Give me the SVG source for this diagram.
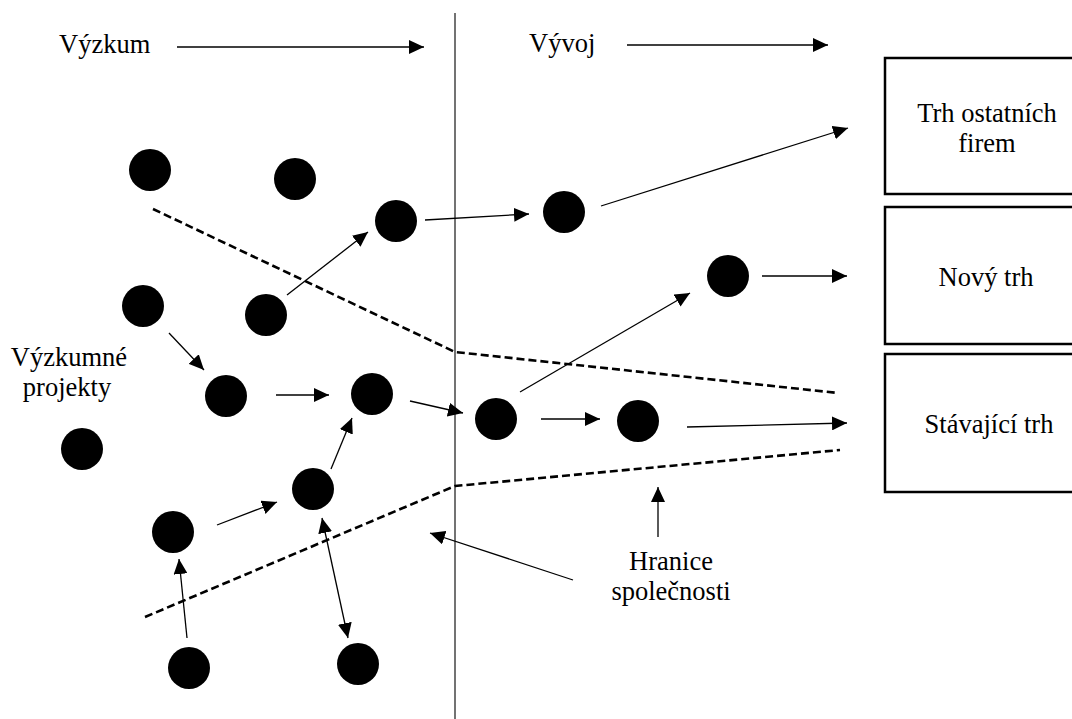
<svg xmlns="http://www.w3.org/2000/svg" width="1072" height="719" viewBox="0 0 1072 719">
<style>
.t{font-family:'Liberation Serif','Times New Roman',serif;font-size:26.5px;fill:#000}
.dot{fill:#000}
.con{stroke:#000;stroke-width:1.3;fill:none;marker-end:url(#ah)}
.dash{stroke:#000;stroke-width:2.6;fill:none;stroke-dasharray:8 4}
.box{fill:#fff;stroke:#000;stroke-width:2.5}
</style>
<defs>
<marker id="ah" markerUnits="userSpaceOnUse" markerWidth="16" markerHeight="14" refX="15" refY="7" orient="auto-start-reverse">
<path d="M0,0 L15,7 L0,14 z" fill="#000"/>
</marker>
</defs>
<rect width="1072" height="719" fill="#fff"/>
<g id="divider"><line x1="455" y1="13" x2="455" y2="719" stroke="#444" stroke-width="1.5"/></g>
<g id="labels" class="t">
<text x="59" y="53">Výzkum</text>
<text x="529" y="52">Vývoj</text>
<text x="69" y="366" text-anchor="middle">Výzkumné</text>
<text x="67" y="396" text-anchor="middle">projekty</text>
<text x="671" y="570" text-anchor="middle">Hranice</text>
<text x="671" y="600" text-anchor="middle">společnosti</text>
</g>
<g id="boundaries">
<polyline class="dash" points="153,209 455,352 838,393"/>
<polyline class="dash" points="145,617 455,486 840,450"/>
</g>
<g id="box-ostatni" class="t"><rect class="box" x="885" y="58" width="204" height="136"/><text x="987" y="122" text-anchor="middle">Trh ostatních</text><text x="987" y="152" text-anchor="middle">firem</text></g>
<g id="box-novy" class="t"><rect class="box" x="885" y="207" width="204" height="137"/><text x="986" y="286" text-anchor="middle">Nový trh</text></g>
<g id="box-stavajici" class="t"><rect class="box" x="885" y="354" width="204" height="138"/><text x="989" y="433" text-anchor="middle">Stávající trh</text></g>
<g id="projects">
<circle id="p1" class="dot" cx="150" cy="170" r="21"/>
<circle id="p2" class="dot" cx="295" cy="179" r="21"/>
<circle id="p3" class="dot" cx="396" cy="221" r="21"/>
<circle id="p4" class="dot" cx="564" cy="212" r="21"/>
<circle id="p5" class="dot" cx="143" cy="306" r="21"/>
<circle id="p6" class="dot" cx="266" cy="315" r="21"/>
<circle id="p7" class="dot" cx="728" cy="276" r="21"/>
<circle id="p8" class="dot" cx="226" cy="396" r="21"/>
<circle id="p9" class="dot" cx="372" cy="394" r="21"/>
<circle id="p10" class="dot" cx="496" cy="419" r="21"/>
<circle id="p11" class="dot" cx="82" cy="449" r="21"/>
<circle id="p12" class="dot" cx="638" cy="421" r="21"/>
<circle id="p13" class="dot" cx="313" cy="489" r="21"/>
<circle id="p14" class="dot" cx="173" cy="532" r="21"/>
<circle id="p15" class="dot" cx="189" cy="668" r="21"/>
<circle id="p16" class="dot" cx="358" cy="664" r="21"/>
</g>
<g id="connectors">
<line class="con" x1="177" y1="47" x2="424" y2="47"/>
<line class="con" x1="627" y1="45" x2="828" y2="45"/>
<line class="con" x1="425" y1="220" x2="529" y2="214"/>
<line class="con" x1="601" y1="206" x2="848" y2="128"/>
<line class="con" x1="287" y1="295" x2="368" y2="232"/>
<line class="con" x1="169" y1="333" x2="204" y2="370"/>
<line class="con" x1="276" y1="395" x2="329" y2="395"/>
<line class="con" x1="410" y1="401" x2="463" y2="413"/>
<line class="con" x1="520" y1="392" x2="690" y2="293"/>
<line class="con" x1="762" y1="276" x2="847" y2="276"/>
<line class="con" x1="541" y1="419" x2="600" y2="419"/>
<line class="con" x1="687" y1="427" x2="847" y2="423"/>
<line class="con" x1="331" y1="469" x2="352" y2="418"/>
<line class="con" x1="217" y1="525" x2="277" y2="502"/>
<line class="con" x1="187" y1="638" x2="179" y2="559"/>
<line class="con" x1="322" y1="518" x2="348" y2="638" marker-start="url(#ah)"/>
<line class="con" x1="573" y1="580" x2="430" y2="533"/>
<line class="con" x1="658" y1="537" x2="658" y2="487"/>
</g>
</svg>
